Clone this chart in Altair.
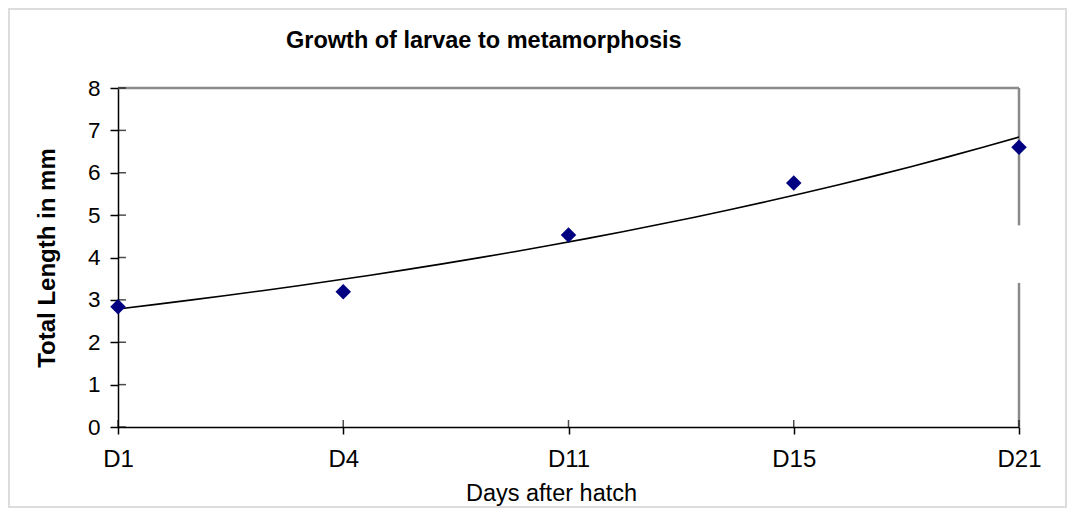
import json
import altair as alt
import pandas as pd

# ---- data ----
days = ["D1", "D4", "D11", "D15", "D21"]
lengths = [2.84, 3.19, 4.53, 5.76, 6.60]
y_ticks = [0, 1, 2, 3, 4, 5, 6, 7, 8]
# right plot-border pieces (there is a gap in the reference)
border_from = [8.0, 3.40]
border_to = [4.76, 0.0]
title_text = "Growth of larvae to metamorphosis"

W, H = 901, 339
PAD = {"left": 110, "top": 80, "right": 48, "bottom": 81}
FONT = "Liberation Sans, Arial"

df = pd.DataFrame({"idx": list(range(len(days))), "len": lengths})
xt = pd.DataFrame({"idx": list(range(len(days)))})
yt = pd.DataFrame({"len": y_ticks})
bd = pd.DataFrame({"len": border_from, "len2": border_to})
one = pd.DataFrame({"k": [0]})

label_expr = f"{json.dumps(days)}[datum.value]"

x_enc = alt.X(
    "idx:Q",
    scale=alt.Scale(domain=[0, len(days) - 1], nice=False, zero=False),
    axis=alt.Axis(
        values=list(range(len(days))), labelExpr=label_expr, title="Days after hatch",
        grid=False, domainColor="black", domainWidth=1.5, tickColor="black",
        tickSize=7, tickWidth=1.5, labelFont=FONT, labelFontSize=24,
        labelColor="black", labelPadding=13, labelFlush=False,
        titleFont=FONT, titleFontSize=23.5, titleFontWeight="normal",
        titleColor="black", titlePadding=10, titleX=433, titleAlign="center",
    ),
)
y_enc = alt.Y(
    "len:Q",
    scale=alt.Scale(domain=[0, 8], nice=False),
    axis=alt.Axis(
        values=y_ticks, title="Total Length in mm", grid=False,
        domainColor="black", domainWidth=1.5, tickColor="black",
        tickSize=8, tickWidth=1.5, labelFont=FONT, labelFontSize=22.5,
        labelColor="black", labelPadding=10,
        titleFont=FONT, titleFontSize=24, titleFontWeight="bold",
        titleColor="black", titlePadding=28,
    ),
)

points = alt.Chart(df).mark_point(
    shape="diamond", filled=True, size=240, color="#000080", opacity=1
).encode(x=x_enc, y=y_enc)

trend = alt.Chart(df).transform_regression(
    "idx", "len", method="exp", extent=[0, len(days) - 1]
).mark_line(color="black", strokeWidth=1.6).encode(x=x_enc, y=y_enc)

y_inner = alt.Chart(yt).mark_tick(
    orient="horizontal", size=8, thickness=1.5, color="black"
).encode(y=y_enc, x=alt.value(4))

x_inner = alt.Chart(xt).mark_tick(
    orient="vertical", size=7, thickness=1.5, color="black"
).encode(x=x_enc, y=alt.value(H - 3.5))

right_border = alt.Chart(bd).mark_rule(color="#8a8a8a", strokeWidth=2.5).encode(
    y=y_enc, y2="len2:Q", x=alt.value(W)
)
top_border = alt.Chart(one).mark_rule(color="#8a8a8a", strokeWidth=2.5).encode(
    y=alt.value(0), x=alt.value(0), x2=alt.value(W)
)
frame = alt.Chart(one).mark_rect(fill=None, stroke="#dcdcdc", strokeWidth=2).encode(
    x=alt.value(-PAD["left"] + 1), x2=alt.value(W + PAD["right"] - 1),
    y=alt.value(-PAD["top"] + 1), y2=alt.value(H + PAD["bottom"] - 1),
)
title = alt.Chart(one).mark_text(
    text=title_text, font=FONT, fontSize=23.5, fontWeight="bold", color="black",
    align="left", baseline="alphabetic",
).encode(x=alt.value(168), y=alt.value(-40))

chart = alt.layer(
    frame, top_border, right_border, trend, y_inner, x_inner, points, title
).properties(
    width=W, height=H,
    autosize=alt.AutoSizeParams(type="none"),
    padding=PAD,
    background="white",
).configure_view(strokeWidth=0)

chart.save("out.html", embed_options={"renderer": "svg", "actions": False})
